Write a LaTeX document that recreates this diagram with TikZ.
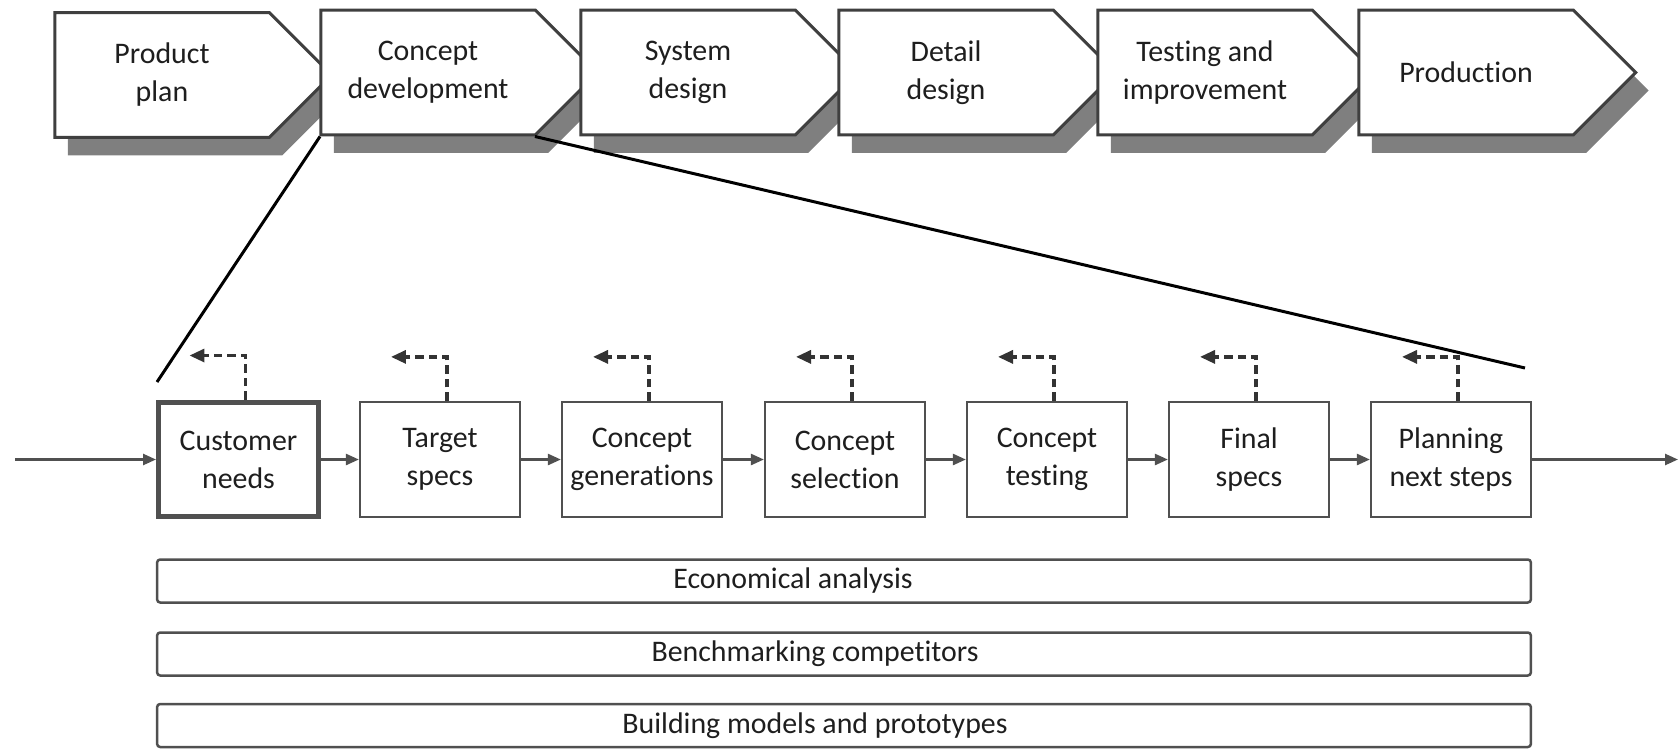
\documentclass[tikz,border=0pt]{standalone}
\usepackage{fontspec}
\setmainfont{Carlito}[Ligatures=NoCommon]
\usetikzlibrary{shapes.symbols,shadows,arrows.meta}

\definecolor{edgegray}{HTML}{3F3F3F}
\definecolor{shadegray}{HTML}{7F7F7F}
\definecolor{linegray}{HTML}{505050}
\definecolor{inkgray}{HTML}{1E1E1E}

\tikzset{
  phase/.style={signal, signal to=east, signal pointer angle=90,
    draw=edgegray, line width=0.06cm, fill=white, align=center,
    text=inkgray, minimum width=5.54cm, minimum height=2.5cm, inner sep=0pt,
    drop shadow={shadow xshift=0.26cm, shadow yshift=-0.36cm,
      fill=shadegray, opacity=1}},
  task/.style={draw=linegray, line width=0.045cm, fill=white, align=center,
    text=inkgray, minimum width=3.2cm, minimum height=2.3cm, inner sep=0pt},
  band/.style={draw=linegray, line width=0.05cm, rounded corners=0.06cm,
    minimum width=27.48cm, minimum height=0.86cm},
  flow/.style={-{Triangle[length=0.26cm,width=0.22cm]}, line width=0.05cm, draw=linegray},
  back/.style={-{Triangle[length=0.3cm,width=0.26cm]}, line width=0.065cm,
    draw=black!80, dash pattern=on 0.17cm off 0.1cm},
  zoomline/.style={line width=0.06cm, black}
}

\begin{document}
\begin{tikzpicture}[x=0.02cm, y=-0.02cm, font=\fontsize{17}{21.6}\selectfont]
        \useasboundingbox (0,0) rectangle (1678,748);

        % Phases of the whole process
        \node[phase] (plan) at (162,75) {Product\\plan};
        \node[phase] (concept) at (428,72.5) {Concept\\development};
        \node[phase] (system) at (688,72.5) {System\\design};
        \node[phase] (detail) at (946,72.5) {Detail\\design};
        \node[phase] (testing) at (1205,72.5) {Testing and\\improvement};
        \node[phase] (production) at (1466,72.5) {Production};

        % Zoom into concept development
        \coordinate (zoomL) at (157,382);
        \coordinate (zoomR) at (1525,368);
        \draw[zoomline] ([xshift=-2.16cm]concept.south) -- (zoomL);
        \draw[zoomline] ([xshift=2.14cm]concept.south) -- (zoomR);

        % Activities
        \node[task, line width=0.1cm] (needs) at (238.5,459.5) {Customer\\needs};
        \node[task] (target) at (440,459.5) {Target\\specs};
        \node[task] (generation) at (642,459.5) {Concept\\generations};
        \node[task] (selection) at (845,459.5) {Concept\\selection};
        \node[task] (conctest) at (1047,459.5) {Concept\\testing};
        \node[task] (final) at (1249,459.5) {Final\\specs};
        \node[task] (nextsteps) at (1451,459.5) {Planning\\next steps};

        % Main flow
        \coordinate (in) at (15,459.5);
        \coordinate (out) at (1678,459.5);
        \draw[flow] (in) -- (needs);
        \draw[flow] (needs) -- (target);
        \draw[flow] (target) -- (generation);
        \draw[flow] (generation) -- (selection);
        \draw[flow] (selection) -- (conctest);
        \draw[flow] (conctest) -- (final);
        \draw[flow] (final) -- (nextsteps);
        \draw[flow] (nextsteps) -- (out);

        % Feedback
        \draw[back] ([xshift=0.14cm]needs.north) -- ++(0,-44) -- ++(-56,0);
        \draw[back] ([xshift=0.14cm]target.north) -- ++(0,-44) -- ++(-56,0);
        \draw[back] ([xshift=0.14cm]generation.north) -- ++(0,-44) -- ++(-56,0);
        \draw[back] ([xshift=0.14cm]selection.north) -- ++(0,-44) -- ++(-56,0);
        \draw[back] ([xshift=0.14cm]conctest.north) -- ++(0,-44) -- ++(-56,0);
        \draw[back] ([xshift=0.14cm]final.north) -- ++(0,-44) -- ++(-56,0);
        \draw[back] ([xshift=0.14cm]nextsteps.north) -- ++(0,-44) -- ++(-56,0);

        % Activities running in parallel
        \node[band] (economy) at (844,581) {};
        \node[text=inkgray] (economytext) at (793,581) {Economical analysis};
        \node[band] (bench) at (844,654) {};
        \node[text=inkgray] (benchtext) at (815,654) {Benchmarking competitors};
        \node[band] (models) at (844,725.5) {};
        \node[text=inkgray] (modelstext) at (815,725.5) {Building models and prototypes};
\end{tikzpicture}
\end{document}
